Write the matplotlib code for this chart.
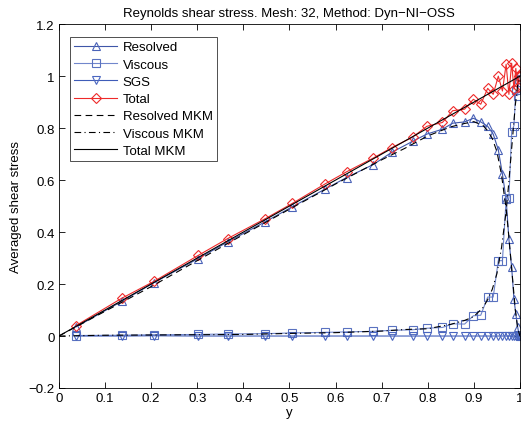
import numpy as np
import matplotlib
matplotlib.use("Agg")
import matplotlib.pyplot as plt

plt.rcParams["font.family"] = ["Liberation Sans", "DejaVu Sans"]
plt.rcParams["font.size"] = 9.5

# Simulation points (mesh 32, refined toward the wall)
y_sim = [0.037, 0.136, 0.206, 0.302, 0.366, 0.448, 0.506, 0.577, 0.624, 0.682,
         0.722, 0.767, 0.798, 0.832, 0.854, 0.880, 0.899, 0.915, 0.930, 0.942,
         0.953, 0.962, 0.970, 0.976, 0.982, 0.987, 0.991, 0.995, 0.998, 1.0]
resolved = [0.035, 0.133, 0.205, 0.298, 0.362, 0.440, 0.497, 0.565, 0.610, 0.660,
            0.707, 0.749, 0.777, 0.796, 0.819, 0.824, 0.838, 0.824, 0.807, 0.777,
            0.717, 0.623, 0.527, 0.373, 0.264, 0.142, 0.085, 0.035, 0.005, 0.0]
viscous = [0.002, 0.003, 0.005, 0.006, 0.008, 0.009, 0.012, 0.014, 0.016, 0.018,
           0.022, 0.024, 0.030, 0.033, 0.047, 0.046, 0.078, 0.080, 0.150, 0.150,
           0.290, 0.290, 0.527, 0.530, 0.786, 0.810, 0.945, 0.925, 0.990, 1.0]
sgs = [0.0, 0.0, 0.001, 0.0, 0.0, 0.0, 0.0, 0.0, 0.0, 0.0,
       0.0, 0.0, 0.0, 0.0, 0.0, 0.0, 0.0, 0.0, 0.0, 0.0,
       0.0, 0.0, 0.0, 0.0, 0.0, 0.0, 0.0, 0.0, 0.0, 0.0]
total = [0.040, 0.145, 0.210, 0.310, 0.375, 0.452, 0.510, 0.585, 0.632, 0.685,
         0.725, 0.765, 0.807, 0.822, 0.867, 0.873, 0.911, 0.892, 0.953, 0.930,
         1.000, 0.943, 1.046, 0.930, 1.050, 0.950, 1.030, 0.960, 1.000, 1.0]

# MKM reference data
y_mkm = [0.0, 0.1, 0.2, 0.3, 0.4, 0.5, 0.6, 0.7, 0.75, 0.8, 0.85, 0.88, 0.9,
         0.92, 0.93, 0.94, 0.95, 0.96, 0.97, 0.975, 0.98, 0.985, 0.99, 0.995, 1.0]
resolved_mkm = [0.0, 0.095, 0.19, 0.29, 0.39, 0.488, 0.585, 0.678, 0.722, 0.77,
                0.805, 0.818, 0.825, 0.81, 0.79, 0.76, 0.71, 0.62, 0.49, 0.40,
                0.30, 0.20, 0.10, 0.03, 0.0]
viscous_mkm = [0.0, 0.003, 0.004, 0.005, 0.006, 0.01, 0.013, 0.019, 0.025, 0.028,
               0.045, 0.06, 0.075, 0.11, 0.14, 0.18, 0.24, 0.34, 0.48, 0.575,
               0.68, 0.785, 0.89, 0.965, 1.0]
total_mkm = [0.0, 0.1, 0.2, 0.3, 0.4, 0.5, 0.6, 0.7, 0.75, 0.8, 0.85, 0.88, 0.9,
             0.92, 0.93, 0.94, 0.95, 0.96, 0.97, 0.975, 0.98, 0.985, 0.99, 0.995, 1.0]

fig = plt.figure(figsize=(5.21, 4.27), dpi=100)
ax = fig.add_axes([0.113, 0.089, 0.885, 0.852])

ms = 6
ax.plot(y_sim, resolved, color="#3f56a8", lw=0.8, marker="^", ms=ms,
        mfc="none", mec="#4a63b8", mew=0.8, label="Resolved")
ax.plot(y_sim, viscous, color="#7187cc", lw=0.8, marker="s", ms=ms - 0.5,
        mfc="none", mec="#5a72c0", mew=0.8, label="Viscous")
ax.plot(y_sim, sgs, color="#3f5cb8", lw=0.8, marker="v", ms=ms,
        mfc="none", mec="#4a66c0", mew=0.8, label="SGS")
ax.plot(y_sim, total, color="#ee2a2a", lw=0.8, marker="D", ms=ms - 1,
        mfc="none", mec="#ee2a2a", mew=0.8, label="Total")
ax.plot(y_mkm, resolved_mkm, color="black", lw=0.8, ls=(0, (6, 4)),
        label="Resolved MKM")
ax.plot(y_mkm, viscous_mkm, color="black", lw=0.8, ls=(0, (6, 3, 1, 3)),
        label="Viscous MKM")
ax.plot(y_mkm, total_mkm, color="black", lw=0.8, ls="-", label="Total MKM")

ax.set_xlim(0, 1)
ax.set_ylim(-0.2, 1.2)
ax.set_xticks(np.arange(0, 1.01, 0.1))
ax.set_xticklabels(["0", "0.1", "0.2", "0.3", "0.4", "0.5", "0.6", "0.7",
                    "0.8", "0.9", "1"])
ax.set_yticks(np.arange(-0.2, 1.21, 0.2))
ax.set_yticklabels(["\u22120.2", "0", "0.2", "0.4", "0.6", "0.8", "1", "1.2"])
ax.tick_params(direction="in", top=True, right=True, length=4, width=0.6,
               pad=3)
for s in ax.spines.values():
    s.set_linewidth(0.6)

ax.set_xlabel("y", labelpad=1)
ax.set_ylabel("Averaged shear stress", labelpad=5)
ax.set_title("Reynolds shear stress. Mesh: 32, Method: Dyn\u2212NI\u2212OSS",
             fontsize=9.5, pad=6)

leg = ax.legend(loc="upper left", bbox_to_anchor=(0.024, 0.964), frameon=True,
                fancybox=False, edgecolor="black", borderpad=0.3,
                labelspacing=0.38, handlelength=3.3, handletextpad=0.4,
                borderaxespad=0.0, fontsize=9.5)
leg.get_frame().set_linewidth(0.6)

fig.savefig("out.png", dpi=100)
